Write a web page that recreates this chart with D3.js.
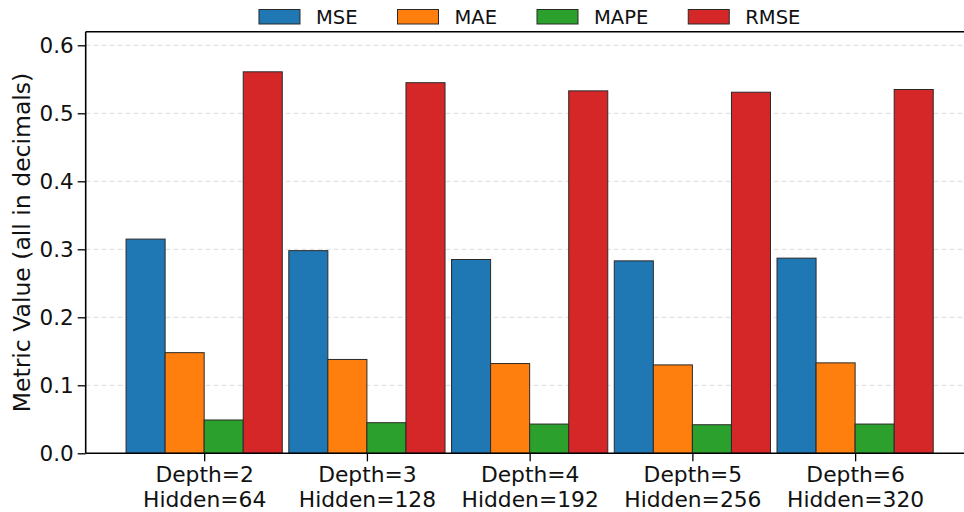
<!DOCTYPE html>
<html>
<head>
<meta charset="utf-8">
<script src="https://cdn.jsdelivr.net/npm/d3@7"></script>
<style>
  html, body { margin: 0; padding: 0; background: #ffffff; }
  svg { display: block; font-family: "DejaVu Sans", sans-serif; }
</style>
</head>
<body>
<svg id="chart" width="964" height="512"></svg>
<script>
// Model configurations (two-line tick labels)
const depthLabels  = ["Depth=2", "Depth=3", "Depth=4", "Depth=5", "Depth=6"];
const hiddenLabels = ["Hidden=64", "Hidden=128", "Hidden=192", "Hidden=256", "Hidden=320"];

// Error metrics per configuration
const metricNames = ["MSE", "MAE", "MAPE", "RMSE"];
const mseValues  = [0.315, 0.298, 0.285, 0.283, 0.287];
const maeValues  = [0.148, 0.138, 0.132, 0.130, 0.133];
const mapeValues = [0.049, 0.045, 0.043, 0.042, 0.043];
const rmseValues = [0.561, 0.545, 0.533, 0.531, 0.535];
const metricColors = ["#1f77b4", "#ff7f0e", "#2ca02c", "#d62728"];

const yTicks = [0.0, 0.1, 0.2, 0.3, 0.4, 0.5, 0.6];

const series = [mseValues, maeValues, mapeValues, rmseValues];
const barWidth = 0.24;   // in category units
const nGroups = depthLabels.length;

const svg = d3.select("#chart");

// Scales: categories are placed at integer positions 0..n-1
const x = d3.scaleLinear().domain([-0.728, nGroups - 1 + 0.728]).range([85.7, 973.6]);
const y = d3.scaleLinear().domain([0, 0.62]).range([453.3, 31.7]);

const plotLeft = x.range()[0], plotRight = x.range()[1];
const plotTop = y.range()[1], plotBottom = y.range()[0];

// Dashed horizontal grid
svg.append("g")
  .selectAll("line")
  .data(yTicks.filter(t => t > 0))
  .join("line")
  .attr("x1", plotLeft).attr("x2", plotRight)
  .attr("y1", d => y(d)).attr("y2", d => y(d))
  .attr("stroke", "#dcdcdc")
  .attr("stroke-width", 1)
  .attr("stroke-dasharray", "5,3");

// Bars
const bars = [];
series.forEach((vals, si) => {
  vals.forEach((v, gi) => {
    bars.push({ si, gi, v });
  });
});

svg.append("g")
  .selectAll("rect")
  .data(bars)
  .join("rect")
  .attr("x", d => x(d.gi + (d.si - 1.5) * barWidth - barWidth / 2))
  .attr("width", d => x(barWidth) - x(0))
  .attr("y", d => y(d.v))
  .attr("height", d => y(0) - y(d.v))
  .attr("fill", d => metricColors[d.si])
  .attr("stroke", "#2a2a2a")
  .attr("stroke-width", 1);

// Y axis
const yAxis = d3.axisLeft(y)
  .tickValues(yTicks)
  .tickFormat(d3.format(".1f"))
  .tickSize(8)
  .tickPadding(4);

const gy = svg.append("g")
  .attr("transform", `translate(${plotLeft},0)`)
  .call(yAxis);
gy.select(".domain").remove();
gy.selectAll(".tick line").attr("stroke", "#000").attr("stroke-width", 1.3);
gy.selectAll(".tick text")
  .attr("fill", "#111")
  .style("font-size", "21.5px")
  .style("font-family", "'DejaVu Sans', sans-serif");

// X axis with two-line labels
const xAxis = d3.axisBottom(x)
  .tickValues(d3.range(nGroups))
  .tickFormat("")
  .tickSize(8);

const gx = svg.append("g")
  .attr("transform", `translate(0,${plotBottom})`)
  .call(xAxis);
gx.select(".domain").remove();
gx.selectAll(".tick line").attr("stroke", "#000").attr("stroke-width", 1.3);
gx.selectAll(".tick").each(function(d) {
  const t = d3.select(this).append("text")
    .attr("fill", "#111")
    .attr("text-anchor", "middle")
    .style("font-size", "21.8px")
    .style("font-family", "'DejaVu Sans', sans-serif");
  t.append("tspan").attr("x", 0).attr("y", 28.3).text(depthLabels[d]);
  t.append("tspan").attr("x", 0).attr("y", 54).text(hiddenLabels[d]);
});

// Spines (left, top, bottom)
const spines = svg.append("g").attr("stroke", "#000").attr("stroke-width", 1.6).attr("fill", "none");
spines.append("line").attr("x1", plotLeft).attr("x2", plotLeft).attr("y1", plotTop).attr("y2", plotBottom);
spines.append("line").attr("x1", plotLeft).attr("x2", plotRight).attr("y1", plotTop).attr("y2", plotTop);
spines.append("line").attr("x1", plotLeft).attr("x2", plotRight).attr("y1", plotBottom).attr("y2", plotBottom);
spines.append("line").attr("x1", plotRight).attr("x2", plotRight).attr("y1", plotTop).attr("y2", plotBottom);

// Y axis title
svg.append("text")
  .attr("transform", `translate(29.5,${(plotTop + plotBottom) / 2}) rotate(-90)`)
  .attr("text-anchor", "middle")
  .attr("fill", "#111")
  .style("font-size", "23.5px")
  .text("Metric Value (all in decimals)");

// Legend, single row centred above the plot
const legend = svg.append("g");
const patchW = 41, patchH = 14.5, textGap = 16, itemGap = 40;
let cursor = 0;
const items = metricNames.map((name, i) => {
  const g = legend.append("g");
  g.append("rect")
    .attr("x", 0).attr("y", 9.5)
    .attr("width", patchW).attr("height", patchH)
    .attr("fill", metricColors[i])
    .attr("stroke", "#2a2a2a").attr("stroke-width", 1);
  const txt = g.append("text")
    .attr("x", patchW + textGap).attr("y", 23.5)
    .attr("fill", "#111")
    .style("font-size", "19.5px")
    .text(name);
  const w = patchW + textGap + txt.node().getComputedTextLength();
  g.attr("transform", `translate(${cursor},0)`);
  cursor += w + itemGap;
  return w;
});
const legendWidth = cursor - itemGap;
legend.attr("transform", `translate(${(plotLeft + plotRight) / 2 - legendWidth / 2},0)`);
</script>
</body>
</html>
